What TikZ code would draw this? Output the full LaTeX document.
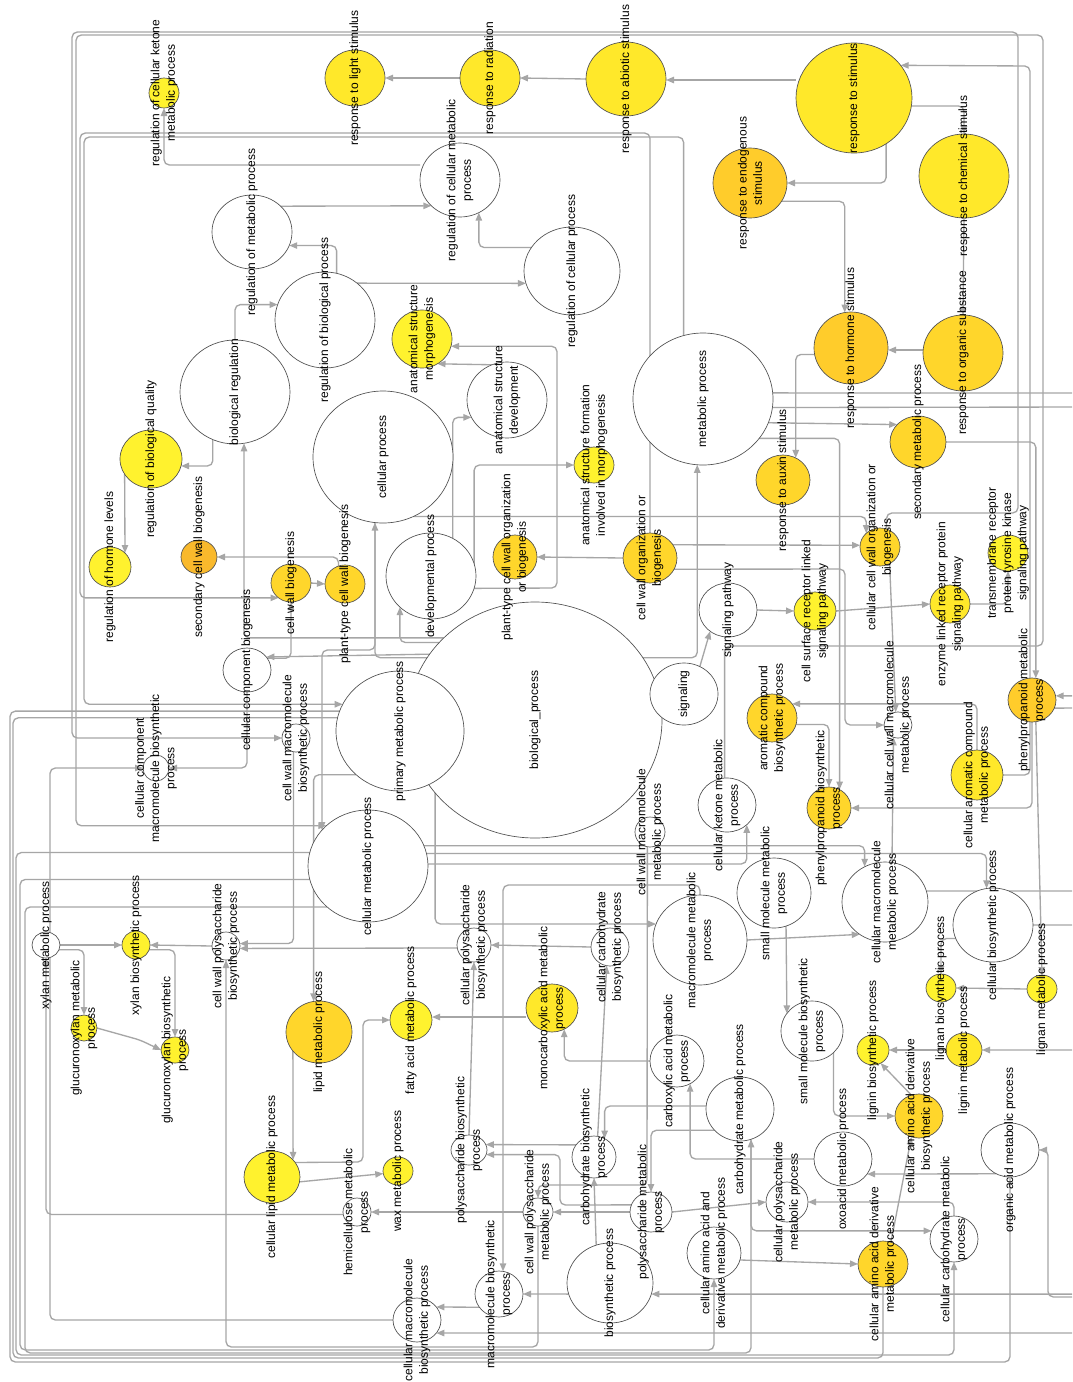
\documentclass[tikz,border=0pt]{standalone}
\usepackage{fontspec}
\setmainfont{Liberation Sans}
\usetikzlibrary{shapes.geometric,arrows.meta}
\pgfdeclarelayer{edgelayer}
\pgfdeclarelayer{textlayer}
\pgfsetlayers{edgelayer,main,textlayer}
\definecolor{edgec}{HTML}{A6A6A6}
\definecolor{nodeline}{HTML}{505050}
\definecolor{yA}{HTML}{FFF22E}
\definecolor{yB}{HTML}{FFE82A}
\definecolor{gC}{HTML}{FFD62B}
\definecolor{gD}{HTML}{FFCC2B}
\definecolor{oE}{HTML}{F9B92C}
\tikzset{
 gocirc/.style={ellipse, draw=nodeline, line width=0.5pt, inner sep=0pt, outer sep=0pt},
 golab/.style={rotate=90, align=center, inner sep=0pt, font=\fontsize{9}{11.5}\selectfont, text=black},
 edge/.style={draw=edgec, line width=1pt, rounded corners=4pt, -{Triangle[length=6pt,width=4.8pt]}},
}
\newcommand\gn[7]{%
 \node[gocirc,fill=#6,minimum width=1.5pt*#4,minimum height=1.5pt*#5] (#1) at (#2,#3) {};
 \begin{pgfonlayer}{textlayer}\node[golab] (#1-l) at (#2,#3) {#7};\end{pgfonlayer}}
\begin{document}
\begin{tikzpicture}[x=0.75pt,y=-0.75pt]
\useasboundingbox (0,0) rectangle (1072,1382);
% ---------- nodes ----------
\gn{rckmp}{164}{93}{15}{15}{yA}{regulation of cellular ketone\\metabolic process}
\gn{rls}{355}{78}{30}{28}{yB}{response to light stimulus}
\gn{rrad}{490}{78}{30}{28}{yB}{response to radiation}
\gn{rabs}{626}{79}{40}{37}{yB}{response to abiotic stimulus}
\gn{rst}{854}{98}{58}{55}{yB}{response to stimulus}
\gn{rend}{750}{183}{37}{35}{gD}{response to endogenous\\stimulus}
\gn{rchem}{964}{176}{45}{42}{yB}{response to chemical stimulus}
\gn{rhorm}{851}{348}{37}{36}{gD}{response to hormone stimulus}
\gn{rorg}{963}{353}{40}{38}{gC}{response to organic substance}
\gn{rmp}{252}{232}{40}{37}{white}{regulation of metabolic process}
\gn{rcmp}{460}{180}{40}{37}{white}{regulation of cellular metabolic\\process}
\gn{rcp}{572}{271}{48}{44}{white}{regulation of cellular process}
\gn{rbp}{325}{320}{50}{48}{white}{regulation of biological process}
\gn{breg}{235}{392}{55}{52}{white}{biological regulation}
\gn{asm}{422}{339}{30}{29}{yA}{anatomical structure\\morphogenesis}
\gn{asd}{507}{400}{40}{38}{white}{anatomical structure\\development}
\gn{cp}{383}{457}{70}{66}{white}{cellular process}
\gn{mp}{703}{399}{70}{66}{white}{metabolic process}
\gn{rbq}{151}{459}{31}{29}{yA}{regulation of biological quality}
\gn{rhl}{110}{567}{21}{20}{yA}{regulation of hormone levels}
\gn{scwb}{199}{557}{18}{17}{oE}{secondary cell wall biogenesis}
\gn{cwb}{291}{583}{20}{19}{gC}{cell wall biogenesis}
\gn{ptcwb}{345}{584}{20}{19}{gC}{plant-type cell wall biogenesis}
\gn{ccb}{247}{670}{24}{22}{white}{cellular component biogenesis}
\gn{devp}{431}{576}{45}{43}{white}{developmental process}
\gn{ptcwob}{515}{557}{22}{22}{gC}{plant-type cell wall organization\\or biogenesis}
\gn{asfim}{594}{465}{20}{18}{yA}{anatomical structure formation\\involved in morphogenesis}
\gn{cwob}{650}{558}{27}{25}{gC}{cell wall organization or\\biogenesis}
\gn{bp}{535}{720}{127}{118}{white}{biological\_process}
\gn{sp}{728}{610}{29}{27}{white}{signaling pathway}
\gn{sig}{684}{694}{34}{31}{white}{signaling}
\gn{raux}{783}{480}{27}{25}{gC}{response to auxin stimulus}
\gn{smp}{918}{442}{28}{26}{gC}{secondary metabolic process}
\gn{cccwob}{880}{547}{20}{19}{gC}{cellular cell wall organization or\\biogenesis}
\gn{tm}{1008}{553}{20}{18}{yA}{transmembrane receptor\\protein tyrosine kinase\\signaling pathway}
\gn{csr}{815}{611}{21}{19}{yA}{cell surface receptor linked\\signaling pathway}
\gn{elr}{950}{604}{20}{19}{yB}{enzyme linked receptor protein\\signaling pathway}
\gn{ppmp}{1032}{700}{24}{22}{gD}{phenylpropanoid metabolic\\process}
\gn{acbp}{772}{718}{25}{24}{gC}{aromatic compound\\biosynthetic process}
\gn{cacmp}{977}{775}{26}{25}{yB}{cellular aromatic compound\\metabolic process}
\gn{ccwmmp}{898}{725}{14}{13}{white}{cellular cell wall macromolecule\\metabolic process}
\gn{cwmmp}{650}{832}{15}{15}{white}{cell wall macromolecule\\metabolic process}
\gn{ppbp}{829}{808}{22}{21}{gC}{phenylpropanoid biosynthetic\\process}
\gn{ckmp}{727}{805}{29}{27}{white}{cellular ketone metabolic\\process}
\gn{smmp}{774}{893}{37}{35}{white}{small molecule metabolic\\process}
\gn{cmmp}{885}{902}{43}{40}{white}{cellular macromolecule\\metabolic process}
\gn{cbsp}{993}{925}{40}{37}{white}{cellular biosynthetic process}
\gn{lnbp}{941}{988}{15}{14}{yA}{lignan biosynthetic process}
\gn{lnmp}{1042}{989}{15}{14}{yA}{lignan metabolic process}
\gn{lgbp}{873}{1050}{16}{15}{yA}{lignin biosynthetic process}
\gn{lgmp}{964}{1050}{18}{17}{yB}{lignin metabolic process}
\gn{caadbp}{919}{1116}{24}{22}{gC}{cellular amino acid derivative\\biosynthetic process}
\gn{oamp}{1010}{1150}{29}{27}{white}{organic acid metabolic process}
\gn{oxmp}{843}{1159}{29}{27}{white}{oxoacid metabolic process}
\gn{chmp}{740}{1109}{34}{32}{white}{carbohydrate metabolic process}
\gn{smbp}{812}{1031}{31}{30}{white}{small molecule biosynthetic\\process}
\gn{cpsmp}{787}{1202}{21}{20}{white}{cellular polysaccharide\\metabolic process}
\gn{caadmp}{883}{1264}{25}{23}{gC}{cellular amino acid derivative\\metabolic process}
\gn{cchmp}{954}{1239}{24}{23}{white}{cellular carbohydrate metabolic\\process}
\gn{caaadmp}{714}{1253}{27}{26}{white}{cellular amino acid and\\derivative metabolic process}
\gn{psmp}{651}{1212}{21}{20}{white}{polysaccharide metabolic\\process}
\gn{bsp}{610}{1283}{43}{40}{white}{biosynthetic process}
\gn{chbp}{594}{1157}{22}{21}{white}{carbohydrate biosynthetic\\process}
\gn{cwpmp}{538}{1212}{15}{14}{white}{cell wall polysaccharide\\metabolic process}
\gn{psbp}{469}{1150}{18}{15}{white}{polysaccharide biosynthetic\\process}
\gn{mmbp}{499}{1294}{24}{23}{white}{macromolecule biosynthetic\\process}
\gn{cmmbp}{417}{1320}{24}{22}{white}{cellular macromolecule\\biosynthetic process}
\gn{wax}{398}{1171}{15}{14}{yA}{wax metabolic process}
\gn{hcmp}{357}{1212}{14}{14}{white}{hemicellulose metabolic\\process}
\gn{clmp}{272}{1177}{28}{26}{yA}{cellular lipid metabolic process}
\gn{lmp}{319}{1032}{33}{31}{gC}{lipid metabolic process}
\gn{famp}{411}{1020}{21}{20}{yA}{fatty acid metabolic process}
\gn{mcamp}{552}{1008}{26}{24}{yB}{monocarboxylic acid metabolic\\process}
\gn{camp}{677}{1061}{27}{26}{white}{carboxylic acid metabolic\\process}
\gn{mmmp}{700}{940}{47}{45}{white}{macromolecule metabolic\\process}
\gn{cchbp}{610}{947}{19}{19}{white}{cellular carbohydrate\\biosynthetic process}
\gn{cpsbp}{474}{945}{17}{17}{white}{cellular polysaccharide\\biosynthetic process}
\gn{cmp}{368}{866}{60}{56}{white}{cellular metabolic process}
\gn{pmp}{400}{731}{64}{60}{white}{primary metabolic process}
\gn{cwmbp}{296}{738}{14}{14}{white}{cell wall macromolecule\\biosynthetic process}
\gn{ccmbp}{156}{768}{13}{13}{white}{cellular component\\macromolecule biosynthetic\\process}
\gn{xmp}{46}{945}{14}{13}{white}{xylan metabolic process}
\gn{xbp}{136}{945}{14}{14}{yA}{xylan biosynthetic process}
\gn{cwpbp}{226}{946}{14}{14}{white}{cell wall polysaccharide\\biosynthetic process}
\gn{gmp}{84}{1028}{13}{13}{yA}{glucuronoxylan metabolic\\process}
\gn{gbp}{175}{1050}{14}{13}{yA}{glucuronoxylan biosynthetic\\process}
% ---------- connectors ----------
\begin{pgfonlayer}{edgelayer}
\fill[white] (0,0) rectangle (1072,1382);
\clip (0,0) rectangle (1072,1382);
\draw[edge] (rst.west |- 0,80) -- (rabs.east |- 0,80);
\draw[edge] (rabs.west) -- (rrad.east);
\draw[edge] (rrad.west) -- (rls.east);
\draw[edge] (rst.-55) |- (rend.east);
\draw[edge] (rst.-8) -| (rchem.north);
\draw[edge] (rend.-30) -| (rhorm.100);
\draw[edge] (rchem.south) -- (rorg.north);
\draw[edge] (rorg.west |- 0,350) -- (rhorm.east |- 0,350);
\draw[edge] (rhorm.190) -| (raux.60);
\draw[edge] (rcmp.west |- 0,165) -| (rckmp.south);
\draw[edge] (rmp.42) -- (rcmp.222);
\draw[edge] (rbp.76) |- (rmp.-20);
\draw[edge] (breg.north) |- (rbp.162);
\draw[edge] (rbp.49) -- (rcp.195);
\draw[edge] (rcp.150) -| (rcmp.-60);
\draw[edge] (breg.245) |- (rbq.-13);
\draw[edge] (rbq.210) -- (rhl.43);
\draw[edge] (ptcwb.110) |- (scwb.east);
\draw[edge] (cwb.east) -- (ptcwb.west);
\draw[edge] (ccb.30) -| (cwb.south);
\draw[edge] (cwob.north) |- (80,133) |- (cwb.230);
\draw[edge] (mp.107) |- (84,137) |- (pmp.155);
\draw[edge] (cccwob.70) |- (1018,513) -- (1018,32) -- (72,32) |- (cwmbp.west);
\draw[edge] (ckmp.95) |- (1043,646) |- (76,35) |- (cmp.136);
\draw[edge] (cacmp.east) -| (1030,66) -- (rst.35);
\draw[edge] (cwob.west) -- (ptcwob.east);
\draw[edge] (cwob.30) -- (cccwob.175);
\draw[edge] (cwob.-25) -- (845,569) |- (ccwmmp.west);
\draw[edge] (cp.-63) -| (cccwob.135);
\draw[edge] (mp.-20) -- (smp.140);
\draw[edge] (smp.east) -| (ppmp.80);
\draw[edge] (mp.-35) -| (ppbp.60);
\draw[edge] (bp.30) -| (mp.-95);
\draw[edge] (sig.60) -- (sp.-130);
\draw[edge] (sp.east) -- (csr.west);
\draw[edge] (csr.east) -- (elr.west);
\draw[edge] (elr.east) -| (tm.south);
\draw[edge] (ppmp.south) |- (ppbp.east);
\draw[edge] (acbp.-15) -| (ppbp.north);
\draw[edge] (cacmp.north) |- (acbp.35);
\draw[edge] (ppmp.-80) -- (lnmp.north);
\draw[edge] (lnmp.west) -- (lnbp.east);
\draw[edge] (mp.-7) -- (1085,407) |- (ppmp.10);
\draw[edge] (ppmp.-20) -- (1080,708) |- (lgmp.east);
\draw[edge] (lgmp.west) -- (lgbp.east);
\draw[edge] (mp.5) -- (1090,393) |- (1048,1297) |- (oamp.east);
\draw[edge] (cmmp.15) -- (1090,891) |- (bsp.-15);
\draw[edge] (smmp.-70) -- (smbp.145);
\draw[edge] (oamp.240) -- (oxmp.-32);
\draw[edge] (oxmp.west) -| (camp.-60);
\draw[edge] (camp.west) -| (mcamp.-60);
\draw[edge] (mcamp.west |- 0,1017) -- (famp.east |- 0,1017);
\draw[edge] (clmp.32) -- (363,1162) |- (famp.west);
\draw[edge] (lmp.216) -- (clmp.39);
\draw[edge] (clmp.-10) -- (wax.190);
\draw[edge] (cwpmp.west) -- (hcmp.east);
\draw[edge] (psmp.west) -- (cwpmp.east);
\draw[edge] (hcmp.190) -| (xmp.south);
\draw[edge] (cwpmp.south) |- (226,1347) -- (cwpbp.south);
\draw[edge] (cwmbp.-100) |- (cwpbp.10);
\draw[edge] (cpsbp.190) -- (cwpbp.-10);
\draw[edge] (cchbp.west) -- (cpsbp.east);
\draw[edge] (chbp.80) -- (cchbp.-100);
\draw[edge] (psbp.north) -- (cpsbp.south);
\draw[edge] (chbp.146) -- (psbp.18);
\draw[edge] (psmp.160) -- (560,1205) |- (psbp.-15);
\draw[edge] (bsp.195) -- (mmbp.east);
\draw[edge] (mmbp.214) -- (cmmbp.34);
\draw[edge] (bsp.110) -- (chbp.south);
\draw[edge] (cbsp.east) -- (1080,925) |- (cmmbp.-34);
\draw[edge] (mmmp.north) |- (503,885) -- (mmbp.80);
\draw[edge] (cmmbp.west) -| (50,768) -- (ccmbp.west);
\draw[edge] (ccb.south) |- (ccmbp.east);
\draw[edge] (cmp.20) -| (cmmp.120);
\draw[edge] (cmp.12) -| (cbsp.100);
\draw[edge] (cmp.2) -| (ckmp.-45);
\draw[edge] (mmmp.east) -- (cmmp.232);
\draw[edge] (cmmp.80) -- (ccwmmp.-110);
\draw[edge] (cccwob.-60) -- (ccwmmp.100);
\draw[edge] (cbsp.200) -| (lnbp.north);
\draw[edge] (caadmp.70) -- (caadbp.-110);
\draw[edge] (caaadmp.-15) -- (caadmp.west);
\draw[edge] (chmp.-70) |- (cchmp.160);
\draw[edge] (cchmp.north) |- (cpsmp.east);
\draw[edge] (psmp.east) -- (cpsmp.west);
\draw[edge] (chmp.175) -| (chbp.60);
\draw[edge] (chmp.220) -| (psmp.north);
\draw[edge] (oamp.south) |- (10,1362) |- (bp.176);
\draw[edge] (caadmp.south) |- (13,1358) |- (bp.179);
\draw[edge] (cmp.167) -| (16,1355) -| (cchmp.south);
\draw[edge] (cmp.193) -| (20,1350) -| (caaadmp.south);
\draw[edge] (cmp.225) -| (25,1353) -| (chmp.-70);
\draw[edge] (bp.138) -| (breg.-80);
\draw[edge] (bp.148) -- (ccb.34);
\draw[edge] (bp.141) -| (devp.-135);
\draw[edge] (cp.-97) -- (375,650) -| (cmp.142);
\draw[edge] (bp.150) -| (cp.-97);
\draw[edge] (devp.60) |- (asd.206);
\draw[edge] (asd.113) -- (asm.-58);
\draw[edge] (devp.-16) -- (557,588) |- (asm.-14);
\draw[edge] (devp.-16) |- (asfim.west);
\draw[edge] (pmp.-55) |- (mmmp.160);
\draw[edge] (pmp.-135) -| (lmp.100);
\draw[edge] (smbp.-45) |- (caadbp.west);
\draw[edge] (caadbp.110) -- (lgbp.-60);
\draw[edge] (cwmmp.-100) -- (647,1185) -| (cwpmp.north);
\draw[edge] (xmp.east) -- (xbp.west);
\draw[edge] (cwpbp.west) -- (xbp.east);
\draw[edge] (xmp.-20) -| (gmp.north);
\draw[edge] (xbp.-20) -| (gbp.north);
\draw[edge] (gmp.east) -- (140,1040) -- (gbp.west);
\end{pgfonlayer}
\end{tikzpicture}
\end{document}
